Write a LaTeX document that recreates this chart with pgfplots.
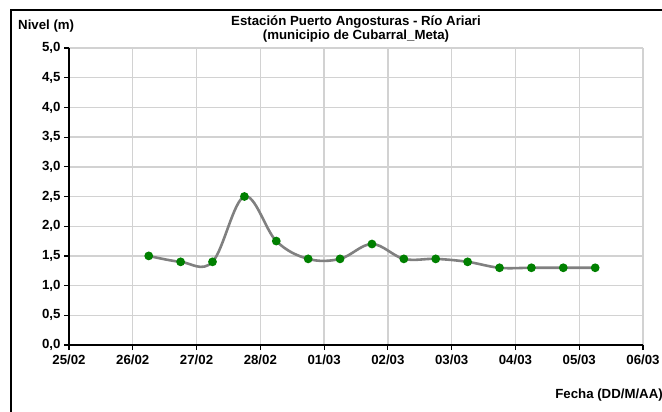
\documentclass[border=0pt]{standalone}
\usepackage{pgfplots}
\pgfplotsset{compat=1.18}
\usepackage{fontspec}
\setmainfont{Liberation Sans}
\definecolor{lgray}{RGB}{128,128,128}
\definecolor{mgreen}{RGB}{0,128,0}
\definecolor{gridc}{RGB}{210,210,210}
\begin{document}
\begin{tikzpicture}[x=1bp,y=1bp]
\useasboundingbox (0,0) rectangle (662,411);
\clip (0,0) rectangle (662,411);
\draw[line width=2bp] (11,-20) -- (11,401) -- (700,401);
\node[font=\bfseries\fontsize{13.3}{11.8}\selectfont, align=center] at (356,382) {Estación Puerto Angosturas - Río Ariari\\(municipio de Cubarral\_Meta)};
\node[font=\bfseries\fontsize{13.3}{12}\selectfont, anchor=west, inner sep=0pt] at (18,385) {Nivel (m)};
\node[font=\bfseries\fontsize{13.3}{12}\selectfont, anchor=east, inner sep=0pt] at (663,16) {Fecha (DD/M/AA)};
\begin{axis}[at={(69bp,66bp)}, anchor=origin, scale only axis,
  width=574bp, height=297bp,
  xmin=0, xmax=9, ymin=0, ymax=5,
  xtick={0,...,9},
  xticklabels={25/02,26/02,27/02,28/02,01/03,02/03,03/03,04/03,05/03,06/03},
  ytick={0,0.5,...,5},
  yticklabel style={/pgf/number format/.cd, use comma, fixed, fixed zerofill, precision=1},
  /pgf/number format/assume math mode=true,
  ticklabel style={font=\bfseries\fontsize{13.3}{12}\selectfont},
  xticklabel style={yshift=-1bp},
  axis x line*=bottom, axis y line*=left,
  axis line style={line width=1.6bp, -},
  grid=major, major grid style={draw=gridc, line width=1.4bp},
  tick align=outside, major tick length=5bp,
  tick style={black, line width=1.2bp},
  clip=false]
\addplot[lgray, line width=2.6bp, smooth, tension=0.6, mark=*, mark size=3bp,
  mark options={draw=mgreen, fill=mgreen}] coordinates {
 (1.25,1.5) (1.75,1.4) (2.25,1.4) (2.75,2.5) (3.25,1.75) (3.75,1.45) (4.25,1.45)
 (4.75,1.7) (5.25,1.45) (5.75,1.45) (6.25,1.4) (6.75,1.3) (7.25,1.3) (7.75,1.3) (8.25,1.3)};
\end{axis}
\end{tikzpicture}
\end{document}
